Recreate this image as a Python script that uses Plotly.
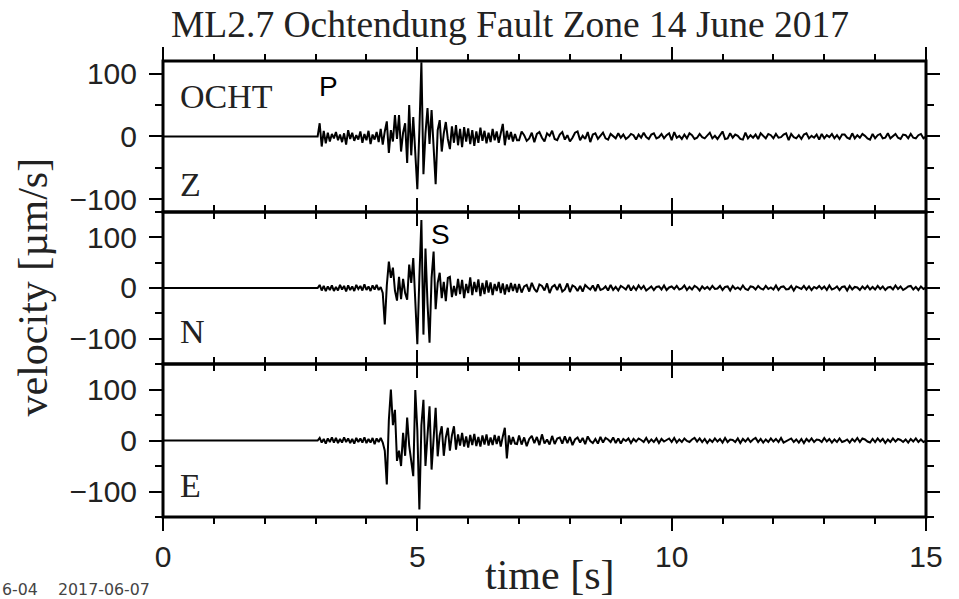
import numpy as np
import plotly.graph_objects as go

# ---------------- data ----------------
# sample times: pre-event quiet, main part (dt = 0.04 s from 3.0 s), coda (7.0 .. 15.0 s)
pre_t = [0.0]
pre_v = [0]
main_t0, main_dt = 3.0, 0.04
coda_start, coda_end = 7.0, 15.0

z_main = [0, 0, 21, -16, 9, -11, 6, -8, 4, -3,
          7, -6, 3, -9, 5, -13, 10, -4, 6, -7,
          2, -5, 8, -10, 4, -6, 9, -12, 3, -5,
          7, -9, 12, -13, 8, 24, -26, 10, -8, 34,
          -4, 34, -24, 6, 21, -42, 50, -30, 31, -20,
          -84, 10, 118, -60, 5, 45, -12, 42, -20, -76,
          10, 26, -24, 5, 23, -4, -20, 16, -10, 18,
          -14, 12, -17, 15, -8, 13, -12, 10, -15, 8,
          -10, 14, -7, 9, -11, 6, -9, 12, -6, 8,
          -10, 5, 20, -14, 9, -5, 7, -8, 4, -6]
z_coda = [-6, 8, 2, -7, -3, 6, -9, 4, 7, -2, -8, 5, 1, 9, -4, -6, 3, 7, -5, 2,
          -8, -2, 6, 8, -6, 1, -4, 7, -9, 3, 5, -4, 2, 6, -3, -5, 4, 1, -3, 5,
          -2, 3, -4, -1, 4, 2, -5, 3, -2, 6, -1, -4, 3, 5, -3, -1, 4, -3, 2, 5,
          -6, 7, -2, 1, -4, 3, -3, 5, 2, -4, -2, 4, -1, -3, 2, 6, -3, 1, -4, 3,
          8, -4, -3, 5, -2, 3, 1, -4, -5, 6, -3, 2, -2, 3, -4, 5, 1, -3, 4, 2,
          -3, 4, -2, -1, 3, 5, -6, 4, -1, -3, 2, -4, 3, 5, -3, 1, -2, 3, -5, 4,
          -3, 2, -1, 4, -3, 2, -4, 3, 3, -2, -4, 5, -3, 2, -2, 4, 1, -3, -5, 4,
          -3, 2, 4, -3, -2, 5, -3, 1, 4, -2, -4, 3, 2, -3, 4, -2, -3, 2, 4, -3, 0]

n_main = [0, 0, 6, -5, 4, -6, 3, -4, 5, -6,
          2, -5, 6, -3, 4, -7, 5, -4, 3, -6,
          6, -2, 4, -5, 7, -4, 3, -6, 5, -3,
          6, -4, 2, -10, -72, 5, 52, 20, 40, -5,
          -25, 22, -22, 18, -10, -23, 46, 10, 59, -40,
          -111, 20, 134, -92, 78, -30, -108, 20, 72, -42,
          10, 30, -20, 12, -26, 20, 22, -18, 4, -15,
          18, -12, 16, -20, 8, -10, 21, -14, 12, -8,
          17, -16, 10, -12, 15, -9, 11, -14, 8, -6,
          12, -10, 9, -13, 7, -8, 10, -6, 8, -9]
n_coda = [8, -9, 3, 6, -7, 10, -2, -8, 7, 4, -5, 9, -10, 2, 6, -4, 8, -7, -3, 9,
          -8, 5, 2, -6, 4, -7, 6, 1, -3, 5, -6, 7, -4, -2, 3, -5, 6, -4, 2, -5,
          4, 1, -3, 6, -5, 3, -4, 5, -2, 4, -5, -1, 3, -4, 2, 3, -3, 5, -4, 1,
          3, -2, 4, -3, -1, 5, -4, 2, -3, 4, 1, -5, 3, -2, 2, -3, 4, -2, -1, 4,
          -4, 2, 3, -5, 4, -2, 1, -3, 5, -2, -4, 3, 2, -3, 4, -1, -3, 4, -2, 1,
          -3, 5, -4, 2, 3, -3, -2, 4, -5, 3, 1, -2, 4, -3, 3, -4, 2, -1, 4, -2,
          3, -4, 5, -3, -1, 3, -4, 2, 3, -5, 4, -3, 2, 1, -4, 3, -2, 4, -3, 2,
          -3, 4, -2, 3, -4, 1, 2, -3, 5, -2, 3, -4, -1, 3, 4, -3, 2, -4, 3, -2, 1]

e_main = [0, 0, 5, -4, 3, -6, 4, -3, 6, -4,
          5, -5, 3, -4, 6, -3, 4, -5, 3, -6,
          5, -3, 4, -4, 6, -5, 3, -4, 5, -7,
          4, -3, 5, -4, -20, -86, 40, 100, 30, 60,
          -40, -20, -50, 15, -30, 45, -10, -37, -70, 99,
          20, -135, 30, 80, -50, 10, 67, -57, 10, 64,
          -31, 10, 28, -30, 6, 25, -20, 10, 28, -18,
          12, -10, 15, -12, 8, -14, 11, -9, 13, -11,
          7, -12, 10, -8, 12, -10, 6, -9, 11, -7,
          9, -12, 8, 25, -35, 10, -8, 7, -6, -7]
e_coda = [10, -8, 6, -11, 3, 9, -5, 7, -9, 12, -6, 2, -8, 9, -7, 4, 6, -6, 8, -5,
          7, -9, 2, 6, -4, 5, -7, 8, -1, -5, 3, -6, 7, -4, 5, 2, -3, 6, -5, 4,
          -6, 3, -1, 4, -5, 3, -2, 4, 1, -3, 5, -4, 2, -3, 4, -5, 3, -2, 1, 4,
          -3, 5, -4, 2, -3, 4, -1, -3, 2, 5, -2, 4, -3, 3, -5, 2, -3, 4, -2, 3,
          -4, 5, -3, 2, 1, -3, 4, -5, 3, -2, 4, -3, 2, 5, -3, 3, -4, 2, -3, 4,
          -2, 3, -3, 5, -4, -1, 2, 4, -3, 2, -4, 3, -5, 3, -2, 4, -3, 2, 1, -3,
          5, -2, 3, -4, 2, -3, 4, -3, -1, 2, -4, 3, -2, 5, -3, 4, 2, -2, -4, 3,
          -3, 4, -2, 3, -5, 2, -3, 4, -2, 3, 1, -3, 2, -4, 3, -2, 4, -3, 2, -3, 0]

components = ["Z", "N", "E"]
station = "OCHT"
y_ranges = [[-120, 120], [-150, 150], [-150, 150]]
y_ticks = [-100, 0, 100]
x_ticks = [0, 5, 10, 15]
title_text = "ML2.7 Ochtendung Fault Zone 14 June 2017"
date_labels = ["6-04", "2017-06-07"]

# ---------------- build traces ----------------
def series(main, coda):
    t_main = main_t0 + main_dt * np.arange(len(main))
    t_coda = np.linspace(coda_start, coda_end, len(coda))
    t = np.concatenate([pre_t, t_main, t_coda])
    v = np.concatenate([pre_v, main, coda])
    return t, v

SERIF = "Liberation Serif, Times New Roman, serif"
SANS = "Liberation Sans, Arial, sans-serif"

fig = go.Figure()
data = [(z_main, z_coda), (n_main, n_coda), (e_main, e_coda)]
for k, (m, c) in enumerate(data):
    t, v = series(m, c)
    sfx = "" if k == 0 else str(k + 1)
    fig.add_trace(go.Scatter(x=t, y=v, mode="lines",
                             line=dict(color="black", width=2),
                             xaxis="x" + sfx, yaxis="y" + sfx,
                             showlegend=False, hoverinfo="skip"))

# panel domains (top: Z, middle: N, bottom: E)
domains = [[0.669, 1.0], [0.3355, 0.669], [0.0, 0.3355]]

layout = dict(
    width=959, height=599,
    margin=dict(l=163, r=33, t=61, b=82),
    paper_bgcolor="white", plot_bgcolor="white",
    showlegend=False,
)
shapes = []
for k in range(3):
    sfx = "" if k == 0 else str(k + 1)
    xa = dict(domain=[0, 1], range=[0, 15], anchor="y" + sfx,
              showline=True, linewidth=1, linecolor="black", mirror="allticks",
              ticks="outside", ticklen=13, tickwidth=1.5, tickcolor="black",
              tickvals=x_ticks, showgrid=False, zeroline=False,
              minor=dict(ticks="outside", ticklen=6, tickwidth=1.5,
                         tickcolor="black", dtick=1, tick0=0, showgrid=False),
              showticklabels=(k == 2),
              tickfont=dict(family=SANS, size=30, color="#222"),
              ticklabelstandoff=0)
    if k > 0:
        xa["matches"] = "x"
    ya = dict(domain=domains[k], range=y_ranges[k], anchor="x" + sfx,
              showline=True, linewidth=1, linecolor="black", mirror="allticks",
              ticks="outside", ticklen=13, tickwidth=1.5, tickcolor="black",
              tickvals=y_ticks, showgrid=False, zeroline=False,
              minor=dict(ticks="outside", ticklen=7, tickwidth=1.5,
                         tickcolor="black", dtick=50, tick0=0, showgrid=False),
              tickfont=dict(family=SANS, size=30, color="#222"),
              ticklabelstandoff=6)
    layout["xaxis" + sfx] = xa
    layout["yaxis" + sfx] = ya
    shapes.append(dict(type="rect", xref="x" + sfx + " domain", yref="y" + sfx + " domain",
                       x0=0, x1=1, y0=0, y1=1, layer="above",
                       line=dict(color="black", width=3)))
layout["shapes"] = shapes
fig.update_layout(**layout)

ann = []
# title
ann.append(dict(text=title_text, xref="paper", yref="paper", x=0.455, y=1.079,
                xanchor="center", yanchor="middle", showarrow=False,
                font=dict(family=SERIF, size=37.5, color="#222")))
# axis titles
ann.append(dict(text="time [s]", xref="paper", yref="paper", x=0.507, y=-0.128,
                xanchor="center", yanchor="middle", showarrow=False,
                font=dict(family=SERIF, size=42, color="#222")))
ann.append(dict(text="velocity [µm/s]", xref="paper", yref="paper", x=-0.17, y=0.504,
                xanchor="center", yanchor="middle", showarrow=False, textangle=-90,
                font=dict(family=SERIF, size=42, color="#222")))
# station / component labels
ann.append(dict(text=station, xref="x", yref="y", x=0.3, y=64, xanchor="left",
                yanchor="middle", showarrow=False,
                font=dict(family=SERIF, size=34, color="#222")))
for k, comp in enumerate(components):
    sfx = "" if k == 0 else str(k + 1)
    yv = [-77, -86, -88][k]
    ann.append(dict(text=comp, xref="x" + sfx, yref="y" + sfx, x=0.3, y=yv,
                    xanchor="left", yanchor="middle", showarrow=False,
                    font=dict(family=SERIF, size=34, color="#222")))
# phase picks
ann.append(dict(text="P", xref="x", yref="y", x=3.02, y=79, xanchor="left",
                yanchor="middle", showarrow=False,
                font=dict(family=SANS, size=28, color="black")))
ann.append(dict(text="S", xref="x2", yref="y2", x=5.23, y=106, xanchor="left",
                yanchor="middle", showarrow=False,
                font=dict(family=SANS, size=28, color="black")))
# stray date labels at the bottom left
for xp, xan, lab in zip([-0.2136, -0.0773], ["left", "center"], date_labels):
    ann.append(dict(text=lab, xref="paper", yref="paper", x=xp, y=-0.160,
                    xanchor=xan, yanchor="middle", showarrow=False,
                    font=dict(family="DejaVu Sans", size=15.8, color="#444")))
fig.update_layout(annotations=ann)

fig.write_html("out.html")
